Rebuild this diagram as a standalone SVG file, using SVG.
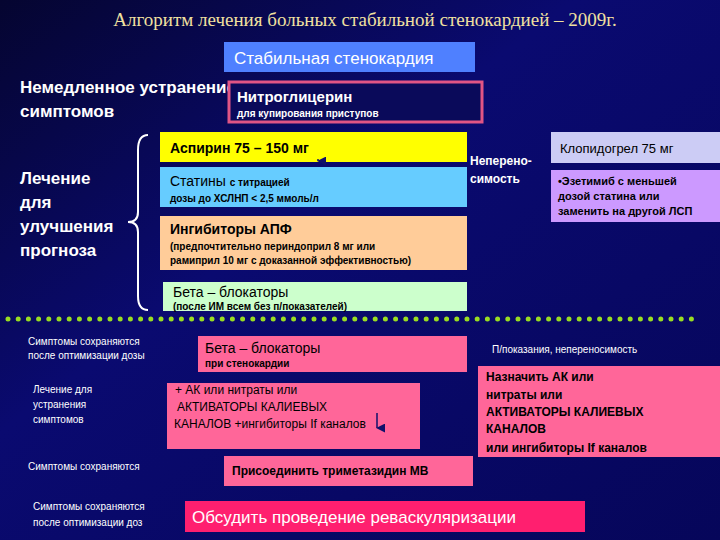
<svg xmlns="http://www.w3.org/2000/svg" width="720" height="540" viewBox="0 0 720 540">
<defs>
<linearGradient id="bg" x1="0" y1="0" x2="1" y2="1"><stop offset="0" stop-color="#050530"/><stop offset="0.4" stop-color="#0a0a70"/><stop offset="1" stop-color="#06065a"/></linearGradient>
<marker id="ah" viewBox="0 0 10 10" refX="5" refY="9" markerWidth="6" markerHeight="6" orient="auto-start-reverse"><path d="M0,0 L10,0 L5,10 z" fill="#10106a"/></marker>
</defs>
<style>
text{font-family:"Liberation Sans",Arial,sans-serif;font-weight:bold}
.w{fill:#fff}.k{fill:#000}
.pk{fill:#ff6699}
</style>
<rect width="720" height="540" fill="url(#bg)"/>
<text x="365" y="26" text-anchor="middle" style="font-family:'Liberation Serif',serif;font-weight:normal" font-size="19" fill="#f0e0a0">Алгоритм лечения больных стабильной стенокардией – 2009г.</text>

<g id="stable"><rect x="224" y="42" width="251" height="30" fill="#4f80ff"/><text x="234" y="64" font-size="17" class="w" style="font-weight:normal">Стабильная стенокардия</text></g>
<g id="immediate"><text x="20" y="93" font-size="17" class="w">Немедленное устранение</text><text x="20" y="117" font-size="17" class="w">симптомов</text></g>
<g id="nitro"><rect x="229" y="82" width="253" height="40" fill="#0a0a5a" stroke="#e05585" stroke-width="3"/><text x="237" y="102" font-size="15" class="w">Нитроглицерин</text><text x="237" y="117" font-size="10" class="w">для купирования приступов</text></g>

<g id="prognosis"><text x="20" y="184" font-size="17" class="w">Лечение</text><text x="20" y="208" font-size="17" class="w">для</text><text x="20" y="232" font-size="17" class="w">улучшения</text><text x="20" y="256" font-size="17" class="w">прогноза</text>
<path d="M148,135 Q138,135 138,150 L138,212 Q138,222 128,222 Q138,222 138,232 L138,296 Q138,310 148,310" fill="none" stroke="#fff" stroke-width="2"/></g>

<g id="aspirin"><rect x="160" y="132" width="307" height="30" fill="#ffff00"/><text x="170" y="153" font-size="14" class="k">Аспирин 75 – 150 мг</text></g>
<g id="statins"><rect x="160" y="167" width="307" height="40" fill="#66ccff"/><text x="170" y="186" font-size="14" class="k" style="font-weight:normal">Статины <tspan font-size="10" font-weight="bold">с титрацией</tspan></text><text x="170" y="202" font-size="10" class="k">дозы до ХСЛНП &lt; 2,5 ммоль/л</text></g>
<g id="ace"><rect x="160" y="216" width="307" height="54" fill="#ffcc99"/><text x="170" y="234" font-size="14" class="k">Ингибиторы АПФ</text><text x="170" y="250" font-size="10" class="k">(предпочтительно периндоприл 8 мг или</text><text x="170" y="264" font-size="10" class="k">рамиприл 10 мг с доказанной эффективностью)</text></g>
<g id="beta1"><rect x="163" y="282" width="304" height="29" fill="#ccffcc"/><text x="173" y="297" font-size="14" class="k" style="font-weight:normal">Бета – блокаторы</text><text x="173" y="310" font-size="10" class="k">(после ИМ всем без п/показателей)</text></g>
<g id="intol"><text x="470" y="165" font-size="12" class="w">Неперено-</text><text x="470" y="183" font-size="12" class="w">симость</text></g>
<g id="clopi"><rect x="551" y="132" width="169" height="31" fill="#ccccf5"/><text x="560" y="153" font-size="13" class="k" style="font-weight:normal">Клопидогрел 75 мг</text></g>
<g id="ezet"><rect x="551" y="170" width="169" height="52" fill="#cc99ff"/><text x="558" y="185" font-size="11" class="k">•Эзетимиб с меньшей</text><text x="558" y="200" font-size="11" class="k">дозой  статина или</text><text x="558" y="215" font-size="11" class="k">заменить на другой ЛСП</text></g>

<line x1="8" y1="319" x2="700" y2="319" stroke="#99dd22" stroke-width="5" stroke-linecap="round" stroke-dasharray="0 10.2"/>

<g id="s1"><text x="28" y="345" font-size="10" class="w" style="font-weight:normal">Симптомы сохраняются</text><text x="28" y="359" font-size="10" class="w" style="font-weight:normal">после оптимизации дозы</text></g>
<g id="beta2"><rect x="198" y="336" width="269" height="36" fill="#ff6699"/><text x="205" y="353" font-size="14" class="k" style="font-weight:normal">Бета – блокаторы</text><text x="205" y="367" font-size="10" class="k">при стенокардии</text></g>
<g id="contra"><text x="492" y="353" font-size="10" class="w" style="font-weight:normal">П/показания, непереносимость</text></g>
<g id="s2"><text x="33" y="393" font-size="10" class="w" style="font-weight:normal">Лечение для</text><text x="33" y="408" font-size="10" class="w" style="font-weight:normal">устранения</text><text x="33" y="423" font-size="10" class="w" style="font-weight:normal">симптомов</text></g>
<g id="ak"><rect x="167" y="383" width="253" height="66" fill="#ff6699"/><text x="175" y="394" font-size="12" class="k" style="font-weight:normal">+ АК или нитраты или</text><text x="177" y="411" font-size="12" class="k" style="font-weight:normal">АКТИВАТОРЫ КАЛИЕВЫХ</text><text x="174" y="428" font-size="12" class="k" style="font-weight:normal">КАНАЛОВ +ингибиторы If каналов</text></g>
<g id="right"><rect x="478" y="366" width="242" height="91" fill="#ff6699"/><text x="486" y="381" font-size="12" class="k">Назначить АК или</text><text x="486" y="399" font-size="12" class="k">нитраты или</text><text x="486" y="416" font-size="12" class="k">АКТИВАТОРЫ КАЛИЕВЫХ</text><text x="486" y="433" font-size="12" class="k">КАНАЛОВ</text><text x="486" y="452" font-size="12" class="k">или ингибиторы If каналов</text></g>
<g id="s3"><text x="28" y="470" font-size="10" class="w" style="font-weight:normal">Симптомы сохраняются</text></g>
<g id="trim"><rect x="224" y="456" width="249" height="30" fill="#ff6699"/><text x="232" y="475" font-size="12" class="k">Присоединить триметазидин МВ</text></g>
<g id="s4"><text x="33" y="510" font-size="10" class="w" style="font-weight:normal">Симптомы сохраняются</text><text x="33" y="526" font-size="10" class="w" style="font-weight:normal">после оптимизации доз</text></g>
<g id="revasc"><rect x="185" y="501" width="400" height="31" fill="#ff1f6f"/><text x="192" y="523" font-size="17" class="w" style="font-weight:normal">Обсудить проведение реваскуляризации</text></g>

<g id="connectors">
<line x1="318" y1="159" x2="318" y2="161" stroke="#10106a" stroke-width="1.5" marker-end="url(#ah)"/>
<line x1="377" y1="413" x2="377" y2="428" stroke="#10106a" stroke-width="1.5" marker-end="url(#ah)"/>
</g>
</svg>
